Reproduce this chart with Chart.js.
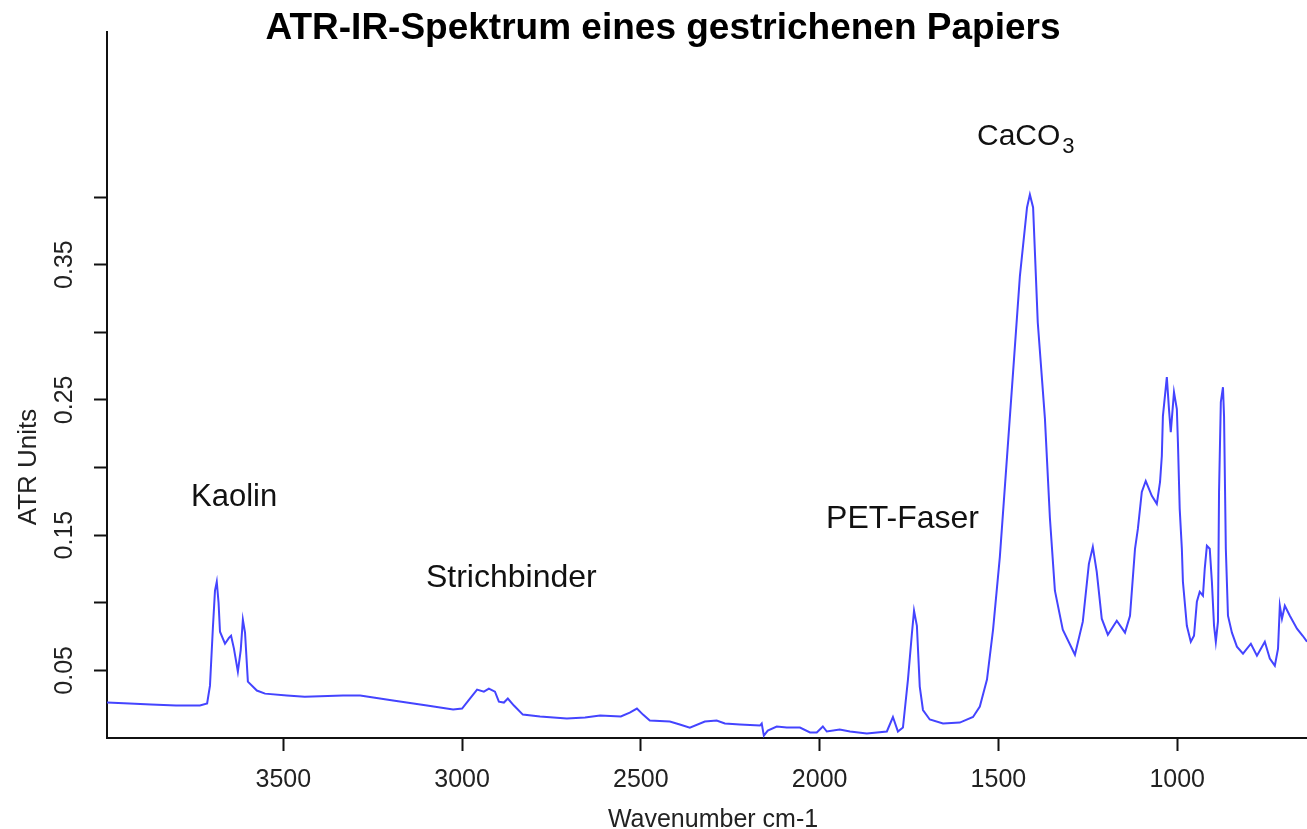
<!DOCTYPE html>
<html>
<head>
<meta charset="utf-8">
<title>ATR-IR-Spektrum</title>
<script src="https://cdn.jsdelivr.net/npm/chart.js@4.4.1/dist/chart.umd.min.js"></script>
<style>
  html, body { margin: 0; padding: 0; background: #fff; }
  #wrap { width: 1307px; height: 829px; position: relative; }
</style>
</head>
<body>
<div id="wrap"><canvas id="spectrum"></canvas></div>
<script>
const chartTitle = 'ATR-IR-Spektrum eines gestrichenen Papiers';
const xAxisTitle = 'Wavenumber cm-1';
const yAxisTitle = 'ATR Units';

// spectrum (wavenumber in cm-1, absorbance in ATR units)
const wavenumbers = [
  3993, 3930, 3870, 3800, 3733, 3713, 3705, 3697, 3691, 3686, 3681, 3677, 3663, 3652, 3646, 3638,
  3627, 3619, 3613, 3607, 3599, 3574, 3551, 3490, 3440, 3333, 3285, 3193, 3098, 3025, 3000, 2978,
  2958, 2939, 2925, 2908, 2897, 2883, 2872, 2855, 2830, 2782, 2707, 2656, 2614, 2556, 2531, 2511,
  2494, 2475, 2419, 2391, 2363, 2321, 2288, 2265, 2223, 2167, 2162, 2156, 2145, 2120, 2092, 2055,
  2027, 2008, 1991, 1980, 1944, 1915, 1868, 1812, 1795, 1781, 1767, 1753, 1742, 1736, 1728, 1720,
  1711, 1692, 1655, 1608, 1571, 1552, 1532, 1515, 1496, 1476, 1459, 1440, 1420, 1412, 1403, 1390,
  1370, 1356, 1342, 1320, 1286, 1264, 1247, 1236, 1225, 1211, 1194, 1169, 1146, 1132, 1118, 1110,
  1099, 1088, 1071, 1057, 1048, 1043, 1040, 1029, 1023, 1018, 1009, 1001, 998, 993, 987, 984,
  973, 962, 953, 945, 937, 928, 923, 917, 909, 903, 897, 892, 886, 883, 878, 872,
  869, 864, 858, 847, 833, 816, 794, 777, 755, 741, 727, 718, 713, 707, 699, 685,
  665, 649, 637
];
const atrUnits = [
  0.0262, 0.0255, 0.0248, 0.0240, 0.0240, 0.0255, 0.0387, 0.0808, 0.1090, 0.1155, 0.1000, 0.0786, 0.0697, 0.0740, 0.0756, 0.0661,
  0.0491, 0.0650, 0.0875, 0.0780, 0.0417, 0.0351, 0.0328, 0.0314, 0.0305, 0.0314, 0.0314, 0.0277, 0.0240, 0.0210, 0.0218, 0.0292,
  0.0358, 0.0343, 0.0365, 0.0343, 0.0269, 0.0262, 0.0292, 0.0240, 0.0173, 0.0159, 0.0144, 0.0151, 0.0166, 0.0159, 0.0188, 0.0218,
  0.0173, 0.0129, 0.0122, 0.0100, 0.0077, 0.0122, 0.0129, 0.0107, 0.0100, 0.0092, 0.0107, 0.0018, 0.0055, 0.0085, 0.0077, 0.0077,
  0.0041, 0.0041, 0.0085, 0.0048, 0.0063, 0.0048, 0.0033, 0.0048, 0.0155, 0.0048, 0.0077, 0.0432, 0.0771, 0.0941, 0.0830, 0.0380,
  0.0207, 0.0137, 0.0107, 0.0114, 0.0155, 0.0232, 0.0432, 0.0801, 0.1339, 0.2077, 0.2705, 0.3413, 0.3923, 0.4018, 0.3923, 0.3074,
  0.2365, 0.1627, 0.1089, 0.0801, 0.0616, 0.0860, 0.1288, 0.1413, 0.1229, 0.0882, 0.0764, 0.0867, 0.0779, 0.0904, 0.1399, 0.1546,
  0.1819, 0.1900, 0.1790, 0.1731, 0.1893, 0.2085, 0.2380, 0.2668, 0.2432, 0.2262, 0.2557, 0.2432, 0.2188, 0.1694, 0.1399, 0.1155,
  0.0830, 0.0712, 0.0756, 0.1007, 0.1081, 0.1052, 0.1251, 0.1421, 0.1399, 0.1155, 0.0830, 0.0712, 0.0860, 0.1819, 0.2483, 0.2594,
  0.2380, 0.1399, 0.0904, 0.0779, 0.0675, 0.0624, 0.0697, 0.0609, 0.0712, 0.0587, 0.0535, 0.0661, 0.0978, 0.0882, 0.0978, 0.0904,
  0.0808, 0.0756, 0.0712
];

const xTickValues = [3500, 3000, 2500, 2000, 1500, 1000];
const yTickValues = [0.05, 0.10, 0.15, 0.20, 0.25, 0.30, 0.35, 0.40];
const yTickLabels = ['0.05', '', '0.15', '', '0.25', '', '0.35', ''];
const bandNames = ['Kaolin', 'Strichbinder', 'PET-Faser', 'CaCO'];

const FONT = '"Liberation Sans", Arial, Helvetica, sans-serif';

// where the band names sit: left edge / baseline in data units, plus font size
const bandPlacement = [
  { w: 3758, v: 0.1716, size: 31 },
  { w: 3101, v: 0.1118, size: 32 },
  { w: 1982, v: 0.1553, size: 32 },
  { w: 1560, v: 0.4387, size: 30, sub: '3' }
];

const textLayer = {
  id: 'textLayer',
  afterDraw(chart) {
    const { ctx, scales: { x, y } } = chart;
    ctx.save();
    ctx.fillStyle = '#000';

    // title
    ctx.font = 'bold 37px ' + FONT;
    ctx.textAlign = 'center';
    ctx.textBaseline = 'alphabetic';
    ctx.fillText(chartTitle, 663, 39);

    // y tick labels, rotated like the original
    ctx.font = '25px ' + FONT;
    ctx.fillStyle = '#222';
    yTickValues.forEach((v, i) => {
      if (!yTickLabels[i]) return;
      ctx.save();
      ctx.translate(72, y.getPixelForValue(v));
      ctx.rotate(-Math.PI / 2);
      ctx.textAlign = 'center';
      ctx.fillText(yTickLabels[i], 0, 0);
      ctx.restore();
    });

    // axis titles
    ctx.save();
    ctx.font = '26px ' + FONT;
    ctx.translate(36, 467);
    ctx.rotate(-Math.PI / 2);
    ctx.textAlign = 'center';
    ctx.fillText(yAxisTitle, 0, 0);
    ctx.restore();
    ctx.font = '25px ' + FONT;
    ctx.textAlign = 'center';
    ctx.fillText(xAxisTitle, 713, 827);

    // band annotations
    ctx.fillStyle = '#111';
    ctx.textAlign = 'left';
    bandNames.forEach((name, i) => {
      const p = bandPlacement[i];
      const px = x.getPixelForValue(p.w);
      const py = y.getPixelForValue(p.v);
      ctx.font = p.size + 'px ' + FONT;
      ctx.fillText(name, px, py);
      if (p.sub) {
        const wd = ctx.measureText(name).width;
        ctx.font = '22px ' + FONT;
        ctx.fillText(p.sub, px + wd + 2, py + 8);
      }
    });
    ctx.restore();
  }
};

const points = wavenumbers.map((w, i) => ({ x: w, y: atrUnits[i] }));

new Chart(document.getElementById('spectrum'), {
  type: 'line',
  data: {
    datasets: [{
      data: points,
      borderColor: '#4444ff',
      borderWidth: 2,
      pointRadius: 0,
      tension: 0,
      fill: false
    }]
  },
  options: {
    responsive: true,
    maintainAspectRatio: false,
    animation: false,
    events: [],
    layout: { padding: { top: 32, right: 0, bottom: 0, left: 0 } },
    plugins: { legend: { display: false }, tooltip: { enabled: false }, title: { display: false } },
    scales: {
      x: {
        type: 'linear',
        reverse: true,
        min: 637,
        max: 3993,
        afterBuildTicks: s => { s.ticks = xTickValues.map(v => ({ value: v })); },
        afterFit: s => { s.height = 91; },
        grid: { display: true, drawOnChartArea: false, drawTicks: true, tickLength: 13, tickWidth: 2, tickColor: '#111' },
        border: { display: true, color: '#111', width: 2 },
        ticks: {
          font: { family: FONT, size: 25 },
          color: '#222',
          padding: 14,
          maxRotation: 0,
          autoSkip: false,
          callback: v => String(v)
        }
      },
      y: {
        type: 'linear',
        min: 0,
        max: 0.522,
        afterBuildTicks: s => { s.ticks = yTickValues.map(v => ({ value: v })); },
        afterFit: s => { s.width = 107; },
        grid: { display: true, drawOnChartArea: false, drawTicks: true, tickLength: 13, tickWidth: 2, tickColor: '#111' },
        border: { display: true, color: '#111', width: 2 },
        ticks: { display: false }
      }
    }
  },
  plugins: [textLayer]
});
</script>
</body>
</html>
